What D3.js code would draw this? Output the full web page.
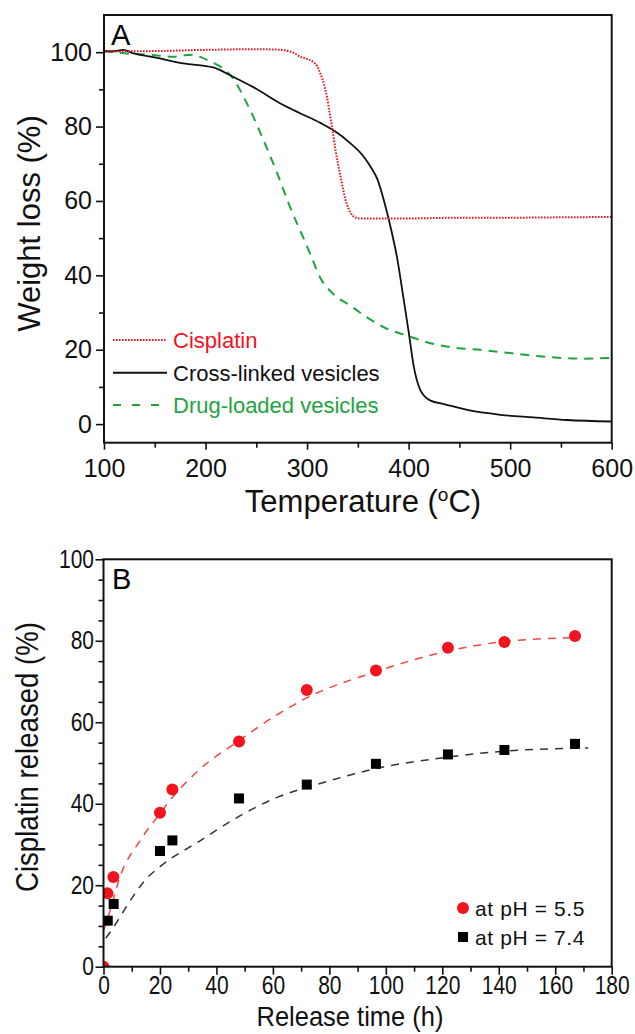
<!DOCTYPE html>
<html>
<meta charset="utf-8">
<head>
<script src="https://d3js.org/d3.v7.min.js"></script>
<style>
  body { margin: 0; background: #fff; }
  svg text { font-family: "Liberation Sans", Arial, sans-serif; }
</style>
</head>
<body>
<script>
// ---- panel A: TGA curves, [temperature (oC), weight (%)] ----
var cisplatinTGA = [[100,100.2],[150,100.3],[195,100.6],[250,100.8],[270,100.7],[280,100.4],[287,99.8],
  [293,98.8],[300,98.2],[306,97.4],[310,96.2],[313,94.3],[317,91],[319.6,88],[322,84],[324.5,80],
  [328,73.7],[333,66.5],[338,60.2],[341,57.8],[344.5,56.2],[348,55.5],[352.6,55.3],[400,55.3],
  [450,55.5],[500,55.5],[550,55.6],[600,55.7]];
var crosslinkedTGA = [[100,100.2],[110,100.3],[119,100.6],[129,99.7],[148.6,98.7],[178,97.0],[207.6,95.9],
  [227,93.4],[247,90.6],[276.6,85.8],[293,83.6],[313,81],[326,79],[342.7,75.5],[355.8,71.9],[363,69],
  [369,66],[375.6,60.2],[382.2,53],[388.8,44.5],[395.3,33.2],[400.3,24.3],[405.2,15.3],[411.8,9.0],
  [421.6,6.3],[434.8,5.4],[457.7,3.8],[490.5,2.5],[523,1.8],[556,1.1],[600,0.7]];
var drugloadedTGA = [[100,100.4],[125,99.6],[145,99.3],[168,98.8],[180,99.2],[188,99.3],[196,98.6],
  [204.6,97.5],[212,96.5],[221,94.8],[228,92.6],[234,89.8],[244,84.4],[257,76.4],[270.6,67.4],
  [283.2,58.4],[299.6,48],[304.8,44.6],[312.7,39.5],[325.8,35.0],[342.3,31.9],[359,28.7],[378.9,25.6],
  [398.6,23.8],[418,22.0],[440.8,20.7],[473.6,19.9],[506.4,18.9],[539.2,18.0],[572,17.6],[600,17.8]];
var tgaNames = ["Cisplatin", "Cross-linked vesicles", "Drug-loaded vesicles"];
var tempTicks = [100, 200, 300, 400, 500, 600];
var weightTicks = [0, 20, 40, 60, 80, 100];

// ---- panel B: release, [time (h), released (%)] ----
var releasePH55 = [[0,0],[1.4,18.0],[3.5,22.0],[20,37.8],[24.4,43.5],[48,55.3],[72,67.9],[96.5,72.7],
  [122,78.3],[142,79.7],[167,81.2]];
var releasePH74 = [[1.5,11.3],[3.6,15.4],[20,28.4],[24.4,31.0],[48,41.3],[72,44.7],[96.5,49.8],
  [122,52.1],[142,53.2],[167,54.7]];
var fitPH55 = [[0,8.8],[2.3,13.7],[5.8,22],[12.9,30.9],[20,37.6],[24,41.2],[34,48.4],[48,55.5],[60,61.2],
  [72,66],[96,72.3],[122,77.5],[142,79.8],[169,80.8]];
var fitPH74 = [[0.8,7],[2.3,8.4],[10.6,17.4],[14.7,21.2],[21.2,25.2],[34.2,30.9],[47.2,36.6],[61.3,41.5],
  [75.5,44.7],[99,49],[121.6,51.4],[141.9,52.9],[171.7,53.7]];
var releaseNames = ["at pH = 5.5", "at pH = 7.4"];
var timeTicks = [0, 20, 40, 60, 80, 100, 120, 140, 160, 180];
var releasedTicks = [0, 20, 40, 60, 80, 100];

var width = 635, height = 1034;
var svg = d3.select("body").append("svg")
    .attr("width", width)
    .attr("height", height);

var red = "#f0141e", green = "#1fa33f";

// ================= panel A =================
var xA = d3.scaleLinear().domain([100, 600]).range([104, 611.7]);
var yA = d3.scaleLinear().domain([-5, 110]).range([442.7, 15]);

var gA = svg.append("g");

gA.append("g")
    .attr("transform", "translate(0," + yA.range()[0] + ")")
    .call(d3.axisBottom(xA).tickValues(d3.range(150, 600, 100)).tickSize(5).tickFormat(""));
var axA = gA.append("g")
    .attr("transform", "translate(0," + yA.range()[0] + ")")
    .call(d3.axisBottom(xA).tickValues(tempTicks).tickSize(7).tickPadding(10));
axA.selectAll("text").attr("font-size", 25).attr("fill", "#111");

gA.append("g")
    .attr("transform", "translate(" + xA.range()[0] + ",0)")
    .call(d3.axisLeft(yA).tickValues(d3.range(10, 101, 20)).tickSize(5).tickFormat(""));
var ayA = gA.append("g")
    .attr("transform", "translate(" + xA.range()[0] + ",0)")
    .call(d3.axisLeft(yA).tickValues(weightTicks).tickSize(8).tickPadding(4));
ayA.selectAll("text").attr("font-size", 25).attr("fill", "#111");
gA.selectAll(".domain").remove();
gA.selectAll(".tick line").attr("stroke", "#111").attr("stroke-width", 1.6);

var lineA = d3.line().x(function(d) { return xA(d[0]); }).y(function(d) { return yA(d[1]); })
    .curve(d3.curveMonotoneX);

gA.append("path").datum(drugloadedTGA).attr("d", lineA)
    .attr("fill", "none").attr("stroke", green).attr("stroke-width", 2).attr("stroke-dasharray", "9,7");
gA.append("path").datum(crosslinkedTGA).attr("d", lineA)
    .attr("fill", "none").attr("stroke", "#111").attr("stroke-width", 1.8);
gA.append("path").datum(cisplatinTGA).attr("d", lineA)
    .attr("fill", "none").attr("stroke", red).attr("stroke-width", 2).attr("stroke-dasharray", "1.6,1.4");

gA.append("rect")
    .attr("x", xA.range()[0]).attr("y", yA.range()[1])
    .attr("width", xA.range()[1] - xA.range()[0])
    .attr("height", yA.range()[0] - yA.range()[1])
    .attr("fill", "none").attr("stroke", "#111").attr("stroke-width", 2);

gA.append("text").attr("x", 111).attr("y", 45).attr("font-size", 29).text("A");

// legend A
var legA = [
  {name: tgaNames[0], color: red, dash: "1.6,1.4", y: 340},
  {name: tgaNames[1], color: "#111", dash: null, y: 372.7},
  {name: tgaNames[2], color: green, dash: "8,11", y: 405}
];
legA.forEach(function(l) {
  gA.append("line").attr("x1", 113).attr("x2", 167).attr("y1", l.y).attr("y2", l.y)
    .attr("stroke", l.color).attr("stroke-width", 2).attr("stroke-dasharray", l.dash);
  gA.append("text").attr("x", 173).attr("y", l.y).attr("dy", "0.36em")
    .attr("font-size", 22).attr("fill", l.color).text(l.name);
});

var tA = gA.append("text").attr("x", 363).attr("y", 511.7).attr("text-anchor", "middle")
    .attr("font-size", 31).attr("fill", "#111");
tA.append("tspan").text("Temperature (");
tA.append("tspan").attr("font-size", 19).attr("dy", -11).text("o");
tA.append("tspan").attr("dy", 11).text("C)");

gA.append("text").attr("transform", "translate(40,223.5) rotate(-90)")
    .attr("text-anchor", "middle").attr("font-size", 31).attr("fill", "#111")
    .text("Weight loss (%)");

// ================= panel B =================
var xB = d3.scaleLinear().domain([0, 180]).range([103.5, 611.7]);
var yB = d3.scaleLinear().domain([0, 100]).range([966.7, 559.3]);

var gB = svg.append("g");

gB.append("defs").append("clipPath").attr("id", "clipB").append("rect")
    .attr("x", xB.range()[0]).attr("y", yB.range()[1])
    .attr("width", xB.range()[1] - xB.range()[0])
    .attr("height", yB.range()[0] - yB.range()[1]);

// panel B uses a condensed face: squeeze the glyphs horizontally
var squeeze = "scale(0.84,1)";

gB.append("g")
    .attr("transform", "translate(0," + yB.range()[0] + ")")
    .call(d3.axisBottom(xB).tickValues(d3.range(10, 180, 20)).tickSize(5).tickFormat(""));
var axB = gB.append("g")
    .attr("transform", "translate(0," + yB.range()[0] + ")")
    .call(d3.axisBottom(xB).tickValues(timeTicks).tickSize(8).tickPadding(1.5));
axB.selectAll("text").attr("font-size", 25).attr("fill", "#111").attr("transform", squeeze);

gB.append("g")
    .attr("transform", "translate(" + xB.range()[0] + ",0)")
    .call(d3.axisLeft(yB).tickValues(d3.range(5, 100, 5).filter(function(v) { return v % 20; }))
      .tickSize(5).tickFormat(""));
var ayB = gB.append("g")
    .attr("transform", "translate(" + xB.range()[0] + ",0)")
    .call(d3.axisLeft(yB).tickValues(releasedTicks).tickSize(8).tickPadding(3.3));
ayB.selectAll("text").attr("font-size", 25).attr("fill", "#111").attr("transform", squeeze);
gB.selectAll(".domain").remove();
gB.selectAll(".tick line").attr("stroke", "#111").attr("stroke-width", 1.6);

var lineB = d3.line().x(function(d) { return xB(d[0]); }).y(function(d) { return yB(d[1]); })
    .curve(d3.curveMonotoneX);

var plotB = gB.append("g").attr("clip-path", "url(#clipB)");
plotB.append("path").datum(fitPH74).attr("d", lineB)
    .attr("fill", "none").attr("stroke", "#333").attr("stroke-width", 1.5).attr("stroke-dasharray", "8,7");
plotB.append("path").datum(fitPH55).attr("d", lineB)
    .attr("fill", "none").attr("stroke", "#f24646").attr("stroke-width", 1.5).attr("stroke-dasharray", "8,7");

plotB.selectAll("rect.sq").data(releasePH74).enter().append("rect").attr("class", "sq")
    .attr("x", function(d) { return xB(d[0]) - 5; })
    .attr("y", function(d) { return yB(d[1]) - 5; })
    .attr("width", 10).attr("height", 10).attr("fill", "#000");
plotB.selectAll("circle.pt").data(releasePH55).enter().append("circle").attr("class", "pt")
    .attr("cx", function(d) { return xB(d[0]); })
    .attr("cy", function(d) { return yB(d[1]); })
    .attr("r", 6).attr("fill", red);

gB.append("rect")
    .attr("x", xB.range()[0]).attr("y", yB.range()[1])
    .attr("width", xB.range()[1] - xB.range()[0])
    .attr("height", yB.range()[0] - yB.range()[1])
    .attr("fill", "none").attr("stroke", "#111").attr("stroke-width", 2);

gB.append("text").attr("x", 112).attr("y", 589).attr("font-size", 29).text("B");

// legend B
gB.append("circle").attr("cx", 463).attr("cy", 908).attr("r", 6).attr("fill", red);
gB.append("rect").attr("x", 458).attr("y", 932).attr("width", 10).attr("height", 10).attr("fill", "#000");
[908, 937].forEach(function(y, i) {
  gB.append("text").attr("x", 475).attr("y", y).attr("dy", "0.36em")
    .attr("font-size", 21).attr("letter-spacing", 0.6).attr("fill", "#111")
    .text(releaseNames[i]);
});

gB.append("text").attr("x", 350).attr("y", 1026).attr("text-anchor", "middle")
    .attr("font-size", 28).attr("fill", "#111").attr("textLength", 187).attr("lengthAdjust", "spacingAndGlyphs")
    .text("Release time (h)");
gB.append("text").attr("transform", "translate(38,757) rotate(-90)")
    .attr("text-anchor", "middle").attr("font-size", 31).attr("fill", "#111")
    .attr("textLength", 270).attr("lengthAdjust", "spacingAndGlyphs")
    .text("Cisplatin released (%)");
</script>
</body>
</html>
